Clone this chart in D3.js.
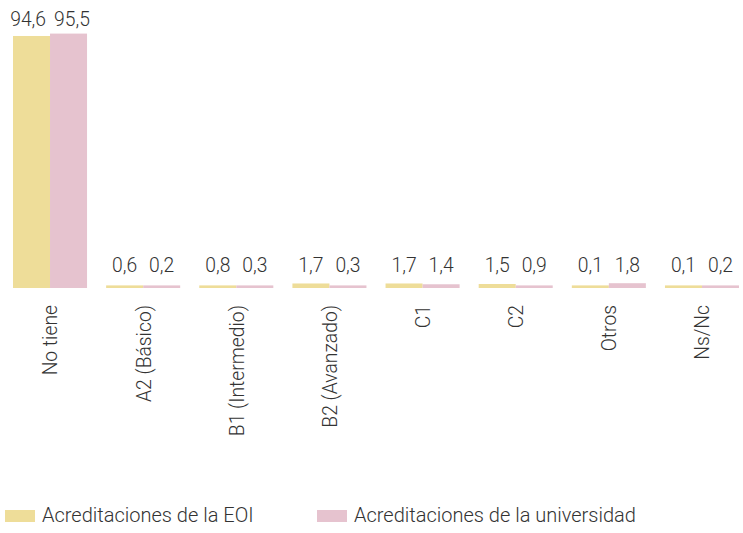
<!DOCTYPE html>
<html>
<head>
<meta charset="utf-8">
<script src="https://cdn.jsdelivr.net/npm/d3@7"></script>
<style>
  body { margin: 0; background: #fff; }
  text { font-family: Roboto, sans-serif; font-weight: 300; fill: #333; }
</style>
</head>
<body>
<svg id="viz"></svg>
<script>
const svg = d3.select("#viz");

const width = 743;
const height = 533;

// categories and the two series
const categories = ["No tiene", "A2 (Básico)", "B1 (Intermedio)", "B2 (Avanzado)", "C1", "C2", "Otros", "Ns/Nc"];
const eoi = [94.6, 0.6, 0.8, 1.7, 1.7, 1.5, 0.1, 0.1];
const universidad = [95.5, 0.2, 0.3, 0.3, 1.4, 0.9, 1.8, 0.2];
const seriesNames = ["Acreditaciones de la EOI", "Acreditaciones de la universidad"];
const colors = ["#eedd99", "#e6c3cf"];

svg.attr("width", width).attr("height", height);

const baseY = 288;
const squeeze = 0.92; // narrow the glyphs a bit, the original font is condensed

const x = d3.scaleBand()
  .domain(categories)
  .range([13, 739])
  .paddingInner(0.205)
  .paddingOuter(0);

const xs = d3.scaleBand()
  .domain([0, 1])
  .range([0, x.bandwidth()]);

const y = d3.scaleLinear()
  .domain([0, 100])
  .range([baseY, baseY - 266.4]);

const rows = categories.map((c, i) => ({ cat: c, vals: [eoi[i], universidad[i]] }));

const groups = svg.selectAll("g.grp")
  .data(rows)
  .enter()
  .append("g")
  .attr("class", "grp")
  .attr("transform", d => `translate(${x(d.cat)},0)`);

groups.selectAll("rect")
  .data(d => d.vals)
  .enter()
  .append("rect")
  .attr("x", (d, i) => xs(i))
  .attr("width", xs.bandwidth())
  .attr("y", d => Math.min(y(d), baseY - 2.6))
  .attr("height", d => Math.max(baseY - y(d), 2.6))
  .attr("fill", (d, i) => colors[i]);

// value labels, one row per group; pushed apart when they collide
groups.each(function(d) {
  const top = y(d3.max(d.vals));
  const ly = Math.min(top - 8, baseY - 16);
  const labels = d3.select(this).selectAll("text.val")
    .data(d.vals)
    .enter()
    .append("text")
    .attr("class", "val")
    .attr("text-anchor", "middle")
    .style("font-size", "21px")
    .text(v => d3.format(".1f")(v).replace(".", ","));

  const w = labels.nodes().map(n => n.getComputedTextLength() * squeeze);
  const cx = [xs(0) + xs.bandwidth() / 2, xs(1) + xs.bandwidth() / 2];
  const gap = (cx[1] - w[1] / 2) - (cx[0] + w[0] / 2);
  if (gap < 8) {
    const push = (8 - gap) / 2;
    cx[0] -= push;
    cx[1] += push;
  }
  labels.attr("transform", (v, i) => `translate(${cx[i]},${ly}) scale(${squeeze},1)`);
});

// category labels, rotated
svg.selectAll("text.cat")
  .data(categories)
  .enter()
  .append("text")
  .attr("class", "cat")
  .attr("transform", d => `translate(${x(d) + x.bandwidth() / 2},305) rotate(-90) scale(${squeeze},1)`)
  .attr("text-anchor", "end")
  .attr("dy", "0.35em")
  .style("font-size", "21px")
  .text(d => d);

// legend
const legendX = [5, 317];
const legend = svg.selectAll("g.leg")
  .data(seriesNames)
  .enter()
  .append("g")
  .attr("class", "leg")
  .attr("transform", (d, i) => `translate(${legendX[i]},510)`);

legend.append("rect")
  .attr("width", 30)
  .attr("height", 12)
  .attr("fill", (d, i) => colors[i]);

legend.append("text")
  .attr("x", 37)
  .attr("y", 12)
  .style("font-size", "20px")
  .text(d => d);
</script>
</body>
</html>
